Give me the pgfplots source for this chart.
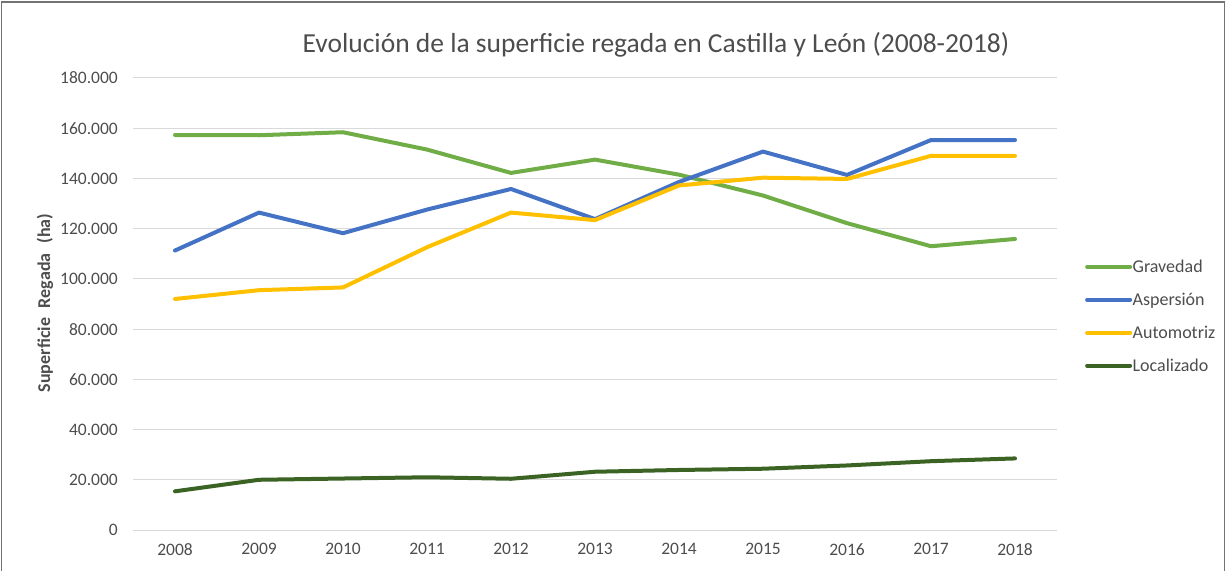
\documentclass[border=0pt]{standalone}
\usepackage{pgfplots}
\pgfplotsset{compat=1.18}
\usepackage{fontspec}
\setmainfont{Carlito}
\definecolor{cgrav}{HTML}{70AD47}
\definecolor{casp}{HTML}{4472C4}
\definecolor{caut}{HTML}{FFC000}
\definecolor{cloc}{HTML}{3B6324}
\definecolor{gridc}{HTML}{D9D9D9}
\definecolor{txt}{HTML}{4D4D4D}
\begin{document}
\begin{tikzpicture}[x=1pt,y=1pt]
\useasboundingbox (0,0) rectangle (1226,571);
\draw[color=black!55, line width=1.3pt] (1.5,0) -- (1.5,569) -- (1224.5,569) -- (1224.5,0);
\node[font=\fontsize{27.5}{32}\selectfont, text=txt] at (656,526) {Evolución de la superficie regada en Castilla y León (2008-2018)};
\node[rotate=90, font=\bfseries\fontsize{18}{22}\selectfont, text=txt] at (45,268) {Superficie\hspace{0.55em}Regada\hspace{0.55em}(ha)};
\begin{axis}[
  at={(133pt,41pt)}, anchor=south west, scale only axis,
  width=924pt, height=452pt,
  xmin=2007.5, xmax=2018.5, ymin=0, ymax=180000,
  xtick={2008,2009,2010,2011,2012,2013,2014,2015,2016,2017,2018},
  xticklabels={2008,2009,2010,2011,2012,2013,2014,2015,2016,2017,2018},
  ytick={0,20000,40000,60000,80000,100000,120000,140000,160000,180000},
  yticklabels={0,20.000,40.000,60.000,80.000,100.000,120.000,140.000,160.000,180.000},
  axis line style={draw=none}, major tick length=0pt,
  ymajorgrids, grid style={color=gridc, line width=1pt},
  scaled y ticks=false,
  xticklabel style={anchor=north, inner sep=0pt, yshift=-13pt},
  yticklabel style={anchor=east, inner sep=0pt, xshift=-15pt},
  ticklabel style={font=\fontsize{17.5}{20}\selectfont, text=txt},
  legend style={at={(1.027,0.473)}, anchor=west, draw=none, fill=none,
    font=\fontsize{18}{21}\selectfont, text=txt, row sep=15pt,
    nodes={inner xsep=0.5pt}},
  legend cell align=left,
  legend image code/.code={\draw[#1] (0pt,0pt) -- (43pt,0pt);},
  every axis plot/.append style={line width=4pt, line join=round, line cap=round}
]
\addplot[color=cgrav] coordinates {(2008,157300) (2009,157200) (2010,158400) (2011,151500) (2012,142200) (2013,147500) (2014,141500) (2015,133200) (2016,122200) (2017,113000) (2018,115900)};
\addlegendentry{Gravedad}
\addplot[color=casp] coordinates {(2008,111300) (2009,126400) (2010,118200) (2011,127600) (2012,135800) (2013,123800) (2014,138600) (2015,150700) (2016,141400) (2017,155300) (2018,155300)};
\addlegendentry{Aspersión}
\addplot[color=caut] coordinates {(2008,92000) (2009,95500) (2010,96600) (2011,112600) (2012,126400) (2013,123400) (2014,137200) (2015,140300) (2016,139800) (2017,149000) (2018,149000)};
\addlegendentry{Automotriz}
\addplot[color=cloc] coordinates {(2008,15400) (2009,20000) (2010,20500) (2011,21000) (2012,20400) (2013,23200) (2014,23900) (2015,24400) (2016,25700) (2017,27400) (2018,28500)};
\addlegendentry{Localizado}
\end{axis}
\end{tikzpicture}
\end{document}
